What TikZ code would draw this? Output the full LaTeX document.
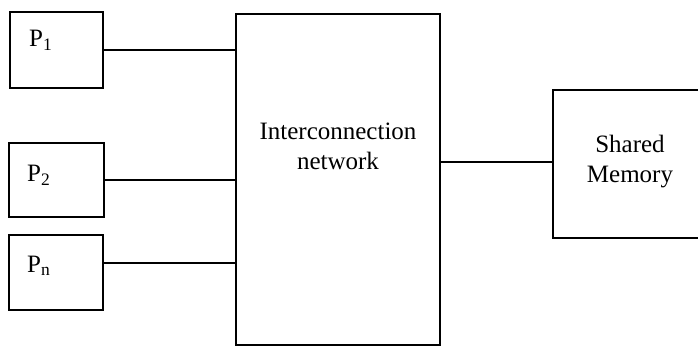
\documentclass[tikz,border=0pt]{standalone}
\usepackage{fontspec}
\setmainfont{Liberation Serif}
\begin{document}
\begin{tikzpicture}[x=1pt,y=-1pt,
  box/.style={draw, line width=1.8pt, inner sep=0pt},
  wire/.style={line width=1.7pt},
  lbl/.style={font=\fontsize{25}{30}\selectfont, inner sep=0pt, align=center}]
\useasboundingbox (0,0) rectangle (698,347);
\clip (0,0) rectangle (698,347);

% processors
\node[box, minimum width=93pt, minimum height=76pt] (p1) at (56.5,50) {};
\node[box, minimum width=95pt, minimum height=74pt] (p2) at (56.5,180) {};
\node[box, minimum width=94pt, minimum height=75pt] (pn) at (56,272.5) {};
\node[lbl, anchor=base west] (t1) at (29,47) {P\textsubscript{1}};
\node[lbl, anchor=base west] (t2) at (27,182) {P\textsubscript{2}};
\node[lbl, anchor=base west] (tn) at (27,272) {P\textsubscript{n}};

% interconnection network
\node[box, minimum width=204pt, minimum height=331pt] (net) at (338,179.5) {};
\node[lbl] (nett) at (338,146) {Interconnection\\network};

% shared memory
\node[box, minimum width=155pt, minimum height=148pt] (mem) at (630.5,164) {};
\node[lbl] (memt) at (630,162) {Shared\\Memory};

% connectors
\draw[wire] (p1.east) -- (p1.east -| net.west);
\draw[wire] (p2.east) -- (p2.east -| net.west);
\coordinate (pnw) at ([yshift=9.5pt]pn.east);
\draw[wire] (pnw) -- (pnw -| net.west);
\coordinate (nm) at ([yshift=17.5pt]net.east);
\draw[wire] (nm) -- (nm -| mem.west);
\end{tikzpicture}
\end{document}
